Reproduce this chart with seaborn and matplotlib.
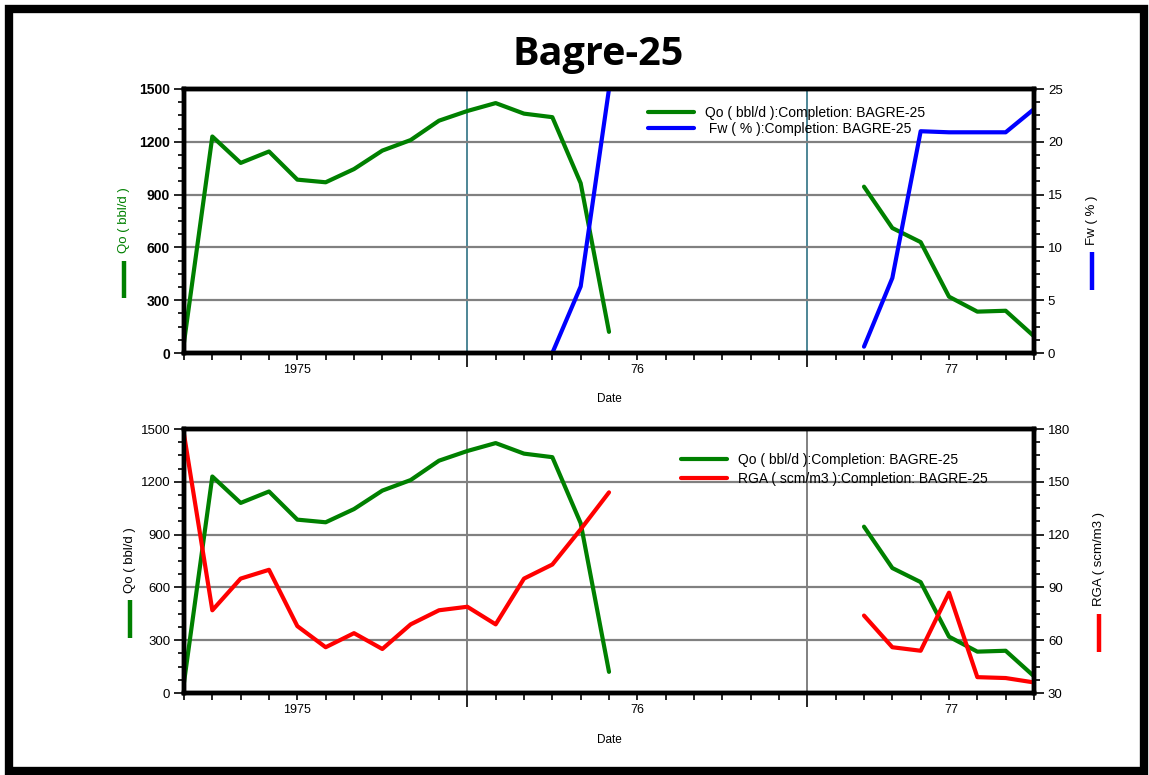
import numpy as np
import pandas as pd
import matplotlib
matplotlib.use("Agg")
import matplotlib.pyplot as plt
import seaborn as sns
from matplotlib.lines import Line2D
from matplotlib.patches import Rectangle
from matplotlib.ticker import MultipleLocator

# ---------------- data (month index from start of axis) ----------------
months_a = list(range(0, 16))
months_b = list(range(24, 31))
qo_a = [60, 1230, 1080, 1145, 985, 970, 1045, 1150, 1210, 1320, 1375, 1420, 1360, 1340, 965, 120]
qo_b = [945, 710, 630, 320, 235, 240, 95]
fw_months_a = [13, 14, 15]
fw_a = [0, 6.3, 25]
fw_b = [0.6, 7.1, 21, 20.9, 20.9, 20.9, 23.1]
rga_a = [177, 77, 95, 100, 68, 56, 64, 55, 69, 77, 79, 69, 95, 103, 123, 144]
rga_b = [74, 56, 54, 87, 39, 38.5, 36]

year_labels = ["1975", "76", "77"]
year_label_pos = [4, 16, 27.1]
year_bounds = [10, 22]

qo_label = "Qo ( bbl/d ):Completion: BAGRE-25"
fw_label = " Fw ( % ):Completion: BAGRE-25"
rga_label = "RGA ( scm/m3 ):Completion: BAGRE-25"


def frame(parts):
    rows = []
    for seg, (ms, vs) in enumerate(parts):
        for m, v in zip(ms, vs):
            rows.append({"month": m, "value": v, "seg": seg})
    return pd.DataFrame(rows)


qo_df = frame([(months_a, qo_a), (months_b, qo_b)])
fw_df = frame([(fw_months_a, fw_a), (months_b, fw_b)])
rga_df = frame([(months_a, rga_a), (months_b, rga_b)])

sns.set_theme(style="white")
plt.rcParams["font.family"] = ["Liberation Sans", "DejaVu Sans"]
plt.rcParams["text.color"] = "black"
plt.rcParams["axes.labelcolor"] = "black"
plt.rcParams["xtick.color"] = "black"
plt.rcParams["ytick.color"] = "black"

W, H = 1149, 775
fig = plt.figure(figsize=(W / 100, H / 100), dpi=100)


def fx(x):
    return x / W


def fy(y):
    return 1 - y / H


GREEN = "#008000"
BLUE = "#0000ff"
RED = "#ff0000"
LW = 3.0


def setup_axes(ax, ax2, bold_left, vgrid_color, right_ticks, right_minor, right_lim):
    ax.set_xlim(0, 30)
    ax.set_ylim(0, 1500)
    ax.set_yticks(range(0, 1501, 300))
    ax.yaxis.set_minor_locator(MultipleLocator(75))
    ax.set_xticks(year_bounds)
    ax.set_xticklabels(["", ""])
    ax.xaxis.set_minor_locator(MultipleLocator(1))
    ax.tick_params(axis="x", which="major", direction="out", length=10, width=1.2, color="black", bottom=True)
    ax.tick_params(axis="x", which="minor", direction="out", length=5, width=1.2, color="black", bottom=True)
    ax.tick_params(axis="y", which="major", direction="out", length=7, width=1.2, color="black", left=True,
                   labelsize=10 if bold_left else 9.5, pad=3, labelcolor="black")
    ax.tick_params(axis="y", which="minor", direction="out", length=4, width=1.2, color="black", left=True)
    for lab in ax.get_yticklabels():
        lab.set_fontweight("bold" if bold_left else "normal")
    ax.grid(False)
    ax.grid(axis="y", which="major", color="#808080", lw=1.6)
    ax.grid(axis="x", which="major", color=vgrid_color, lw=1.4)
    ax.set_xlabel("")
    ax.set_ylabel("")
    for sp in ax.spines.values():
        sp.set_linewidth(3.2)
        sp.set_color("black")
    ax2.set_ylim(*right_lim)
    ax2.set_yticks(right_ticks)
    ax2.yaxis.set_minor_locator(MultipleLocator(right_minor))
    ax2.tick_params(axis="y", which="major", direction="out", length=7, width=1.2, color="black", right=True,
                    labelsize=9.5, pad=3, labelcolor="black")
    ax2.tick_params(axis="y", which="minor", direction="out", length=4, width=1.2, color="black", right=True)
    ax2.set_ylabel("")
    ax2.set_xlabel("")
    ax2.grid(False)
    for sp in ax2.spines.values():
        sp.set_linewidth(3.2)
        sp.set_color("black")
    sec = ax.secondary_xaxis("bottom")
    sec.set_xticks(year_label_pos)
    sec.set_xticklabels(year_labels)
    sec.tick_params(axis="x", length=0, labelsize=9, pad=8, labelcolor="black")
    sec.spines["bottom"].set_visible(False)


# ---------------- top panel ----------------
ax_top = fig.add_axes([fx(184), fy(353), fx(1034) - fx(184), fy(89) - fy(353)])
sns.lineplot(data=qo_df, x="month", y="value", units="seg", estimator=None, color=GREEN, lw=LW,
             ax=ax_top, legend=False)
ax_top2 = ax_top.twinx()
sns.lineplot(data=fw_df, x="month", y="value", units="seg", estimator=None, color=BLUE, lw=LW,
             ax=ax_top2, legend=False)
setup_axes(ax_top, ax_top2, True, "#4d8696", [0, 5, 10, 15, 20, 25], 1.25, (0, 25))
ax_top2.legend(handles=[Line2D([], [], color=GREEN, lw=LW), Line2D([], [], color=BLUE, lw=LW)],
               labels=[qo_label, fw_label], frameon=False, loc="upper left",
               bbox_to_anchor=((638 - 184) / 850, (353 - 96) / 264), fontsize=10,
               handlelength=3.3, handletextpad=0.8, labelspacing=0.15, borderpad=0.2)

# ---------------- bottom panel ----------------
ax_bot = fig.add_axes([fx(184), fy(693), fx(1034) - fx(184), fy(429) - fy(693)])
sns.lineplot(data=qo_df, x="month", y="value", units="seg", estimator=None, color=GREEN, lw=LW,
             ax=ax_bot, legend=False)
ax_bot2 = ax_bot.twinx()
sns.lineplot(data=rga_df, x="month", y="value", units="seg", estimator=None, color=RED, lw=LW,
             ax=ax_bot2, legend=False)
setup_axes(ax_bot, ax_bot2, False, "#808080", [30, 60, 90, 120, 150, 180], 7.5, (30, 180))
ax_bot2.legend(handles=[Line2D([], [], color=GREEN, lw=LW), Line2D([], [], color=RED, lw=LW)],
               labels=[qo_label, rga_label], frameon=False, loc="upper left",
               bbox_to_anchor=((671 - 184) / 850, (693 - 443) / 264), fontsize=10,
               handlelength=3.3, handletextpad=0.8, labelspacing=0.35, borderpad=0.2)

# ---------------- axis labels with colour bars ----------------
def side_label(x, ytext, text, color_text, y0, y1, bar_color):
    fig.text(fx(x), fy(ytext), text, rotation=90, ha="center", va="center", fontsize=9.5, color=color_text)
    fig.add_artist(Line2D([fx(x), fx(x)], [fy(y0), fy(y1)], color=bar_color, lw=3.2,
                          transform=fig.transFigure, solid_capstyle="butt"))


side_label(124, 220, "Qo ( bbl/d )", GREEN, 261, 298, GREEN)
side_label(1092, 220, "Fw ( % )", "black", 252, 290, BLUE)
side_label(130, 560, "Qo ( bbl/d )", "black", 600, 638, GREEN)
side_label(1099, 559, "RGA ( scm/m3 )", "black", 614, 652, RED)

fig.text(fx(609), fy(399), "Date", ha="center", va="center", fontsize=8.5)
fig.text(fx(609), fy(740), "Date", ha="center", va="center", fontsize=8.5)

fig.text(fx(598), fy(55), "Bagre-25", ha="center", va="center", fontsize=28.5, fontweight="bold",
         family=["Open Sans", "DejaVu Sans"])

# outer frame
fig.add_artist(Rectangle((fx(9), fy(771)), fx(1144) - fx(9), fy(9) - fy(771), fill=False,
                         edgecolor="black", lw=6, transform=fig.transFigure))

fig.savefig("out.png", dpi=100)
